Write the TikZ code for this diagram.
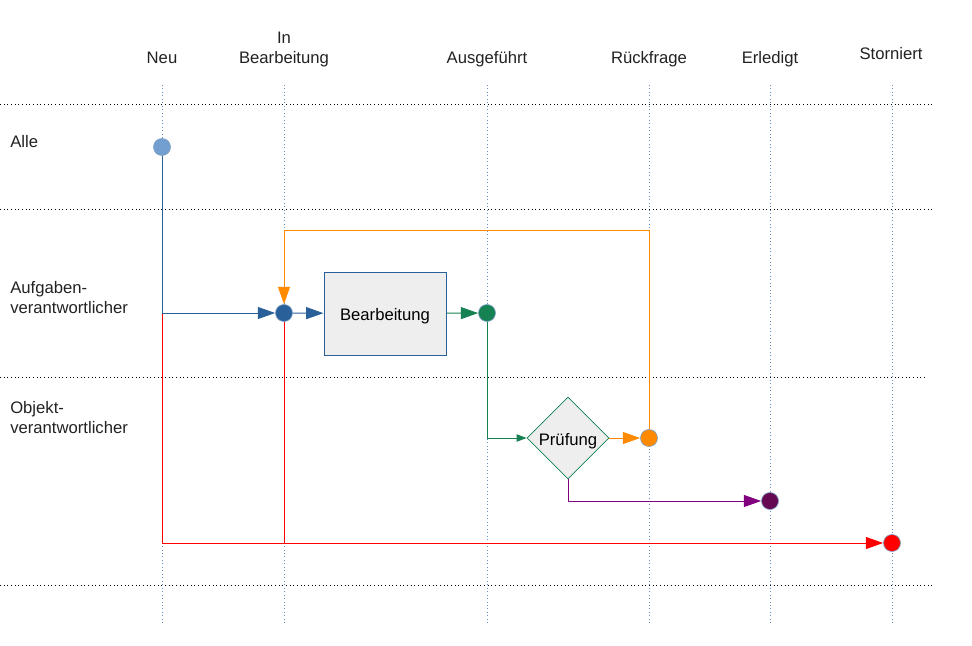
\documentclass[tikz,border=0pt]{standalone}
\usepackage{fontspec}
\setmainfont{Liberation Sans}
\usetikzlibrary{shapes.geometric,arrows.meta}
\definecolor{txt}{HTML}{222222}
\definecolor{vline}{HTML}{6A8FC8}
\definecolor{cblue}{HTML}{2A6099}
\definecolor{clight}{HTML}{729FCF}
\definecolor{cgreen}{HTML}{168253}
\definecolor{corange}{HTML}{FF8A00}
\definecolor{cpurple}{HTML}{800080}
\definecolor{cpurpfill}{HTML}{650953}
\definecolor{boxfill}{HTML}{EEEEEE}
\begin{document}
\begin{tikzpicture}[x=0.75pt,y=-0.75pt,
  lbl/.style={font=\fontsize{12.5}{15}\selectfont, text=txt, inner sep=0pt, align=center, anchor=base},
  lane/.style={lbl, align=left, anchor=base west},
  state/.style={circle, minimum size=12.75pt, inner sep=0pt, draw=cblue!60, line width=0.5pt},
  flow/.style={line width=0.75pt},
  big/.style={-{Triangle[length=13pt,width=9pt]}},
  small/.style={-{Triangle[length=7.5pt,width=5.5pt]}},
  sep/.style={dotted, line width=0.75pt, black},
  col/.style={dotted, line width=0.6pt, vline}]

\useasboundingbox (0,0) rectangle (972,646);

% swimlane separators
\draw[sep] (0,104) -- (932,104);
\draw[sep] (0,209) -- (932,209);
\draw[sep] (0,377) -- (927,377);
\draw[sep] (0,585) -- (932,585);

% column guides
\foreach \x in {162,284,487,649,770,892}
  \draw[col] (\x,85) -- (\x,625);

% headers
\node[lbl] (hNeu) at (162,63) {Neu};
\node[lbl] (hInB) at (284,63) {In\\Bearbeitung};
\node[lbl] (hAus) at (487,63) {Ausgeführt};
\node[lbl] (hRue) at (649,63) {Rückfrage};
\node[lbl] (hErl) at (770,63) {Erledigt};
\node[lbl] (hSto) at (891,60) {Storniert};

% lane labels
\node[lane] (lAlle) at (10,147) {Alle};
\node[lane] (lAuf) at (10,313) {Aufgaben-\\verantwortlicher};
\node[lane] (lObj) at (10,433) {Objekt-\\verantwortlicher};

% nodes
\node[state, fill=clight] (start) at (162,147) {};
\node[state, fill=cblue] (inb) at (284,313) {};
\node[draw=cblue, line width=0.75pt, fill=boxfill, minimum width=91.5pt, minimum height=62.25pt, inner sep=0pt,
      text height=11pt, text depth=1.25pt,
      font=\fontsize{12.5}{15}\selectfont, text=black] (box) at (385,313.5) {Bearbeitung};
\node[state, fill=cgreen] (aus) at (487,313) {};
\node[diamond, aspect=1, draw=cgreen, line width=0.6pt, fill=boxfill, minimum width=61.5pt, minimum height=61.5pt,
      inner sep=0pt, text height=12pt, text depth=1.5pt, font=\fontsize{12.5}{15}\selectfont, text=black] (pruef) at (568,438) {Prüfung};
\node[state, fill=corange] (rueck) at (649,438) {};
\node[state, fill=cpurpfill] (erl) at (770,501) {};
\node[state, fill=red] (sto) at (892,543) {};

\coordinate (split) at (162,313);
\coordinate (ret) at (649,230);

% connectors
\draw[flow, red, big] (split) |- (sto);
\draw[flow, red] (inb) -- (inb |- sto);
\draw[flow, cblue, big] (start) |- (inb);
\draw[flow, cblue, big] (inb) -- (box);
\draw[flow, cgreen, big] (box) -- (aus);
\draw[flow, cgreen, small] (aus) |- (pruef);
\draw[flow, corange, big] (pruef) -- (rueck);
\draw[flow, corange, big] (rueck) -- (ret) -| (inb);
\draw[flow, cpurple, big] (pruef) |- (erl);
\end{tikzpicture}
\end{document}
